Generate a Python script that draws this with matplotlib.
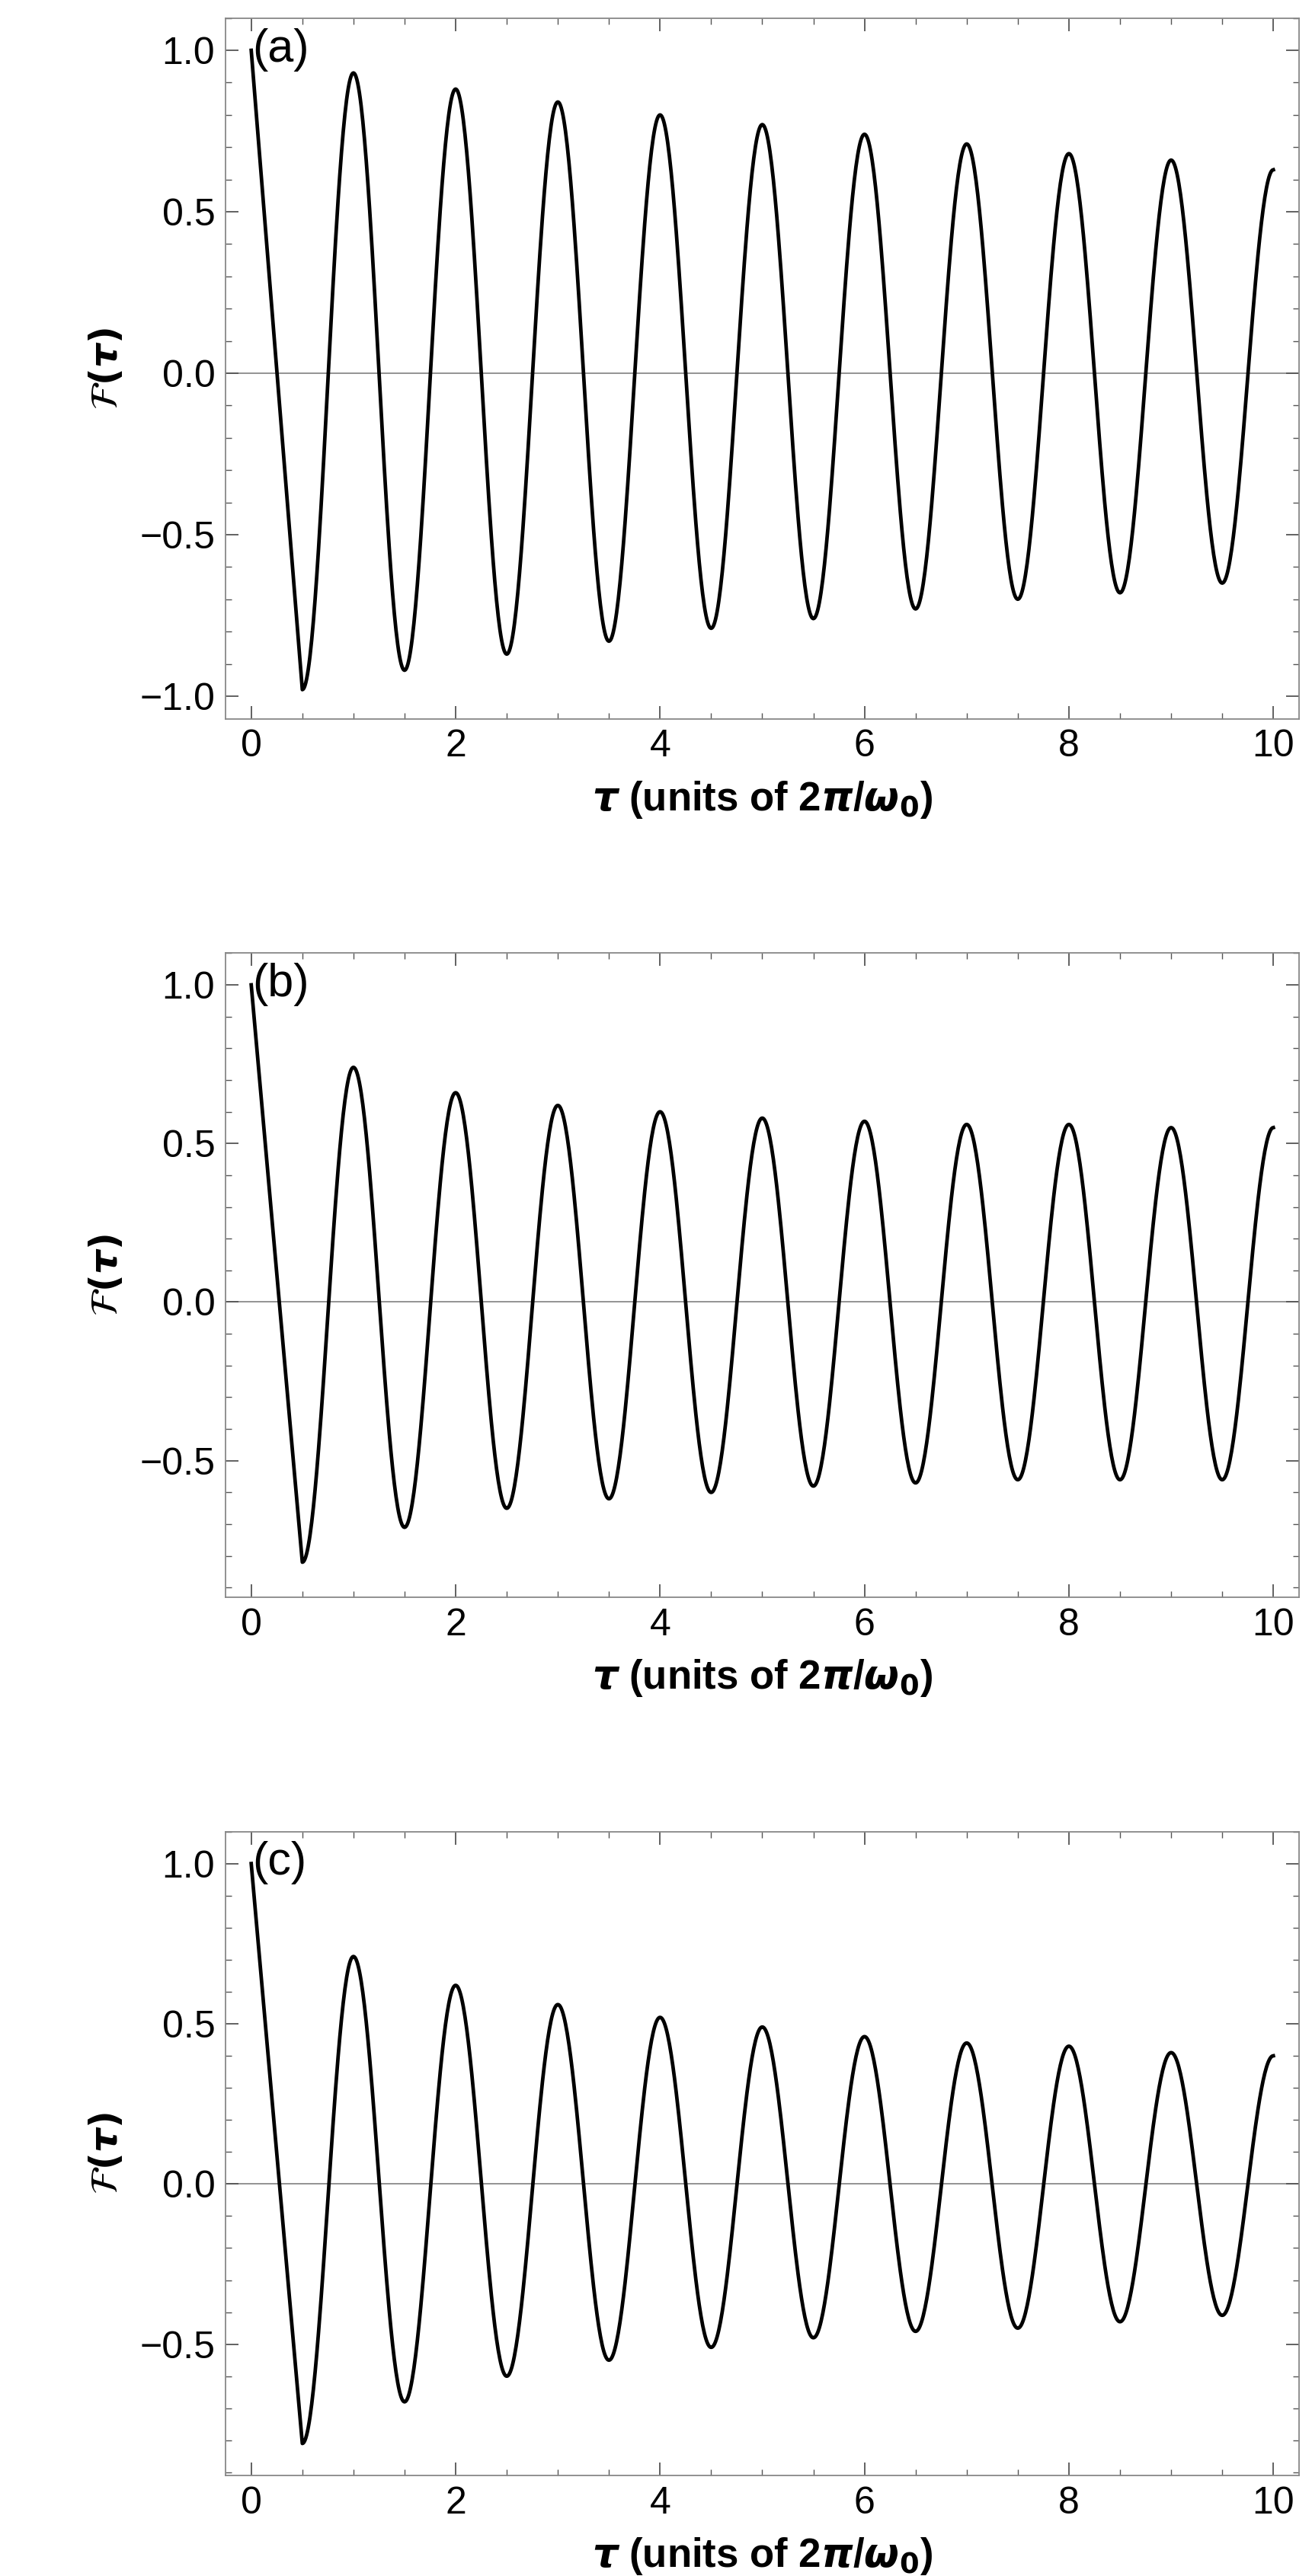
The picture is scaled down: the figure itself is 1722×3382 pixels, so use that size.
import numpy as np
import matplotlib
matplotlib.use("Agg")
import matplotlib.pyplot as plt
from matplotlib.ticker import MultipleLocator

plt.rcParams['font.family'] = ['Liberation Sans', 'DejaVu Sans']
plt.rcParams['mathtext.fontset'] = 'dejavusans'

# extremum times (units of 2pi/w0) and values
ext_t = [0, 0.5, 1, 1.5, 2, 2.5, 3, 3.5, 4, 4.5, 5, 5.5, 6, 6.5, 7, 7.5, 8, 8.5, 9, 9.5, 10]
ext_a = [1.0, -0.98, 0.93, -0.92, 0.88, -0.87, 0.84, -0.83, 0.80, -0.79, 0.77, -0.76, 0.74, -0.73, 0.71, -0.70, 0.68, -0.68, 0.66, -0.65, 0.63]
ext_b = [1.0, -0.82, 0.74, -0.71, 0.66, -0.65, 0.62, -0.62, 0.60, -0.60, 0.58, -0.58, 0.57, -0.57, 0.56, -0.56, 0.56, -0.56, 0.55, -0.56, 0.55]
ext_c = [1.0, -0.81, 0.71, -0.68, 0.62, -0.60, 0.56, -0.55, 0.52, -0.51, 0.49, -0.48, 0.46, -0.46, 0.44, -0.45, 0.43, -0.43, 0.41, -0.41, 0.40]
panel_labels = ["(a)", "(b)", "(c)"]
ylims = [(-1.07, 1.1), (-0.93, 1.1), (-0.91, 1.1)]
yticks = [[-1.0, -0.5, 0.0, 0.5, 1.0], [-0.5, 0.0, 0.5, 1.0], [-0.5, 0.0, 0.5, 1.0]]

def curve(tk, vk, n=60):
    ts, vs = [], []
    for i in range(len(tk) - 1):
        s = np.linspace(0, 1, n, endpoint=False)
        ts.append(tk[i] + (tk[i+1] - tk[i]) * s)
        if i == 0:
            shape = s  # first drop is nearly straight
        else:
            shape = (1 - np.cos(np.pi * s)) / 2
        vs.append(vk[i] + (vk[i+1] - vk[i]) * shape)
    ts.append([tk[-1]]); vs.append([vk[-1]])
    return np.concatenate(ts), np.concatenate(vs)

fig = plt.figure(figsize=(17.22, 33.82), dpi=100)
tops = [0.993, 0.630, 0.289]
heights = [0.272, 0.250, 0.250]
for i, (vals, lab) in enumerate(zip([ext_a, ext_b, ext_c], panel_labels)):
    bottom = tops[i] - heights[i]
    ax = fig.add_axes([0.172, bottom, 0.818, heights[i]])
    t, v = curve(ext_t, vals)
    ax.plot(t, v, color='black', lw=3.4)
    ax.axhline(0, color='gray', lw=1.2, zorder=0)
    ax.set_xlim(-0.25, 10.25)
    ax.set_ylim(*ylims[i])
    ax.set_xticks([0, 2, 4, 6, 8, 10])
    ax.set_yticks(yticks[i])
    ax.set_yticklabels(["%.1f" % y if y >= 0 else "\u2212%.1f" % -y for y in yticks[i]])
    ax.xaxis.set_minor_locator(MultipleLocator(0.5))
    ax.yaxis.set_minor_locator(MultipleLocator(0.1))
    ax.tick_params(which='both', direction='in', top=True, right=True, labelsize=36, color='#555555', pad=10)
    ax.tick_params(which='major', length=12, width=1.3)
    ax.tick_params(which='minor', length=6, width=1.0)
    for sp in ax.spines.values():
        sp.set_color('#888888'); sp.set_linewidth(1.3)
    ax.text(0.025, 0.985, lab, transform=ax.transAxes, fontsize=44, va='top', ha='left')
    ax.set_xlabel(r'$\boldsymbol{\tau}$ (units of 2$\boldsymbol{\pi}$/$\boldsymbol{\omega}_\mathbf{0}$)',
                  fontsize=38, fontweight='bold', labelpad=14)
    ax.set_ylabel(r'$\mathcal{F}\mathbf{(}\boldsymbol{\tau}\mathbf{)}$', fontsize=36, labelpad=14)

fig.savefig("out.png", dpi=100)
